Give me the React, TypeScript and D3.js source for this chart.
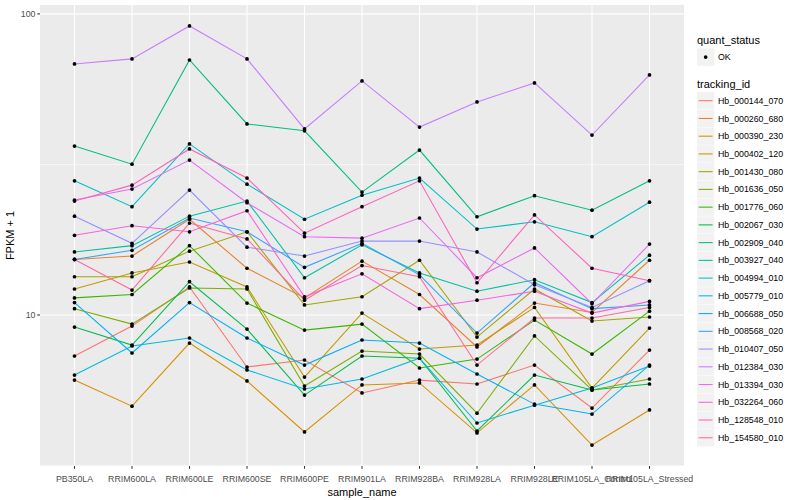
import * as d3 from "d3";

const samples = [
  "PB350LA",
  "RRIM600LA",
  "RRIM600LE",
  "RRIM600SE",
  "RRIM600PE",
  "RRIM901LA",
  "RRIM928BA",
  "RRIM928LA",
  "RRIM928LE",
  "RRIM105LA_Control",
  "RRIM105LA_Stressed",
];

const trackingIds = [
  "Hb_000144_070",
  "Hb_000260_680",
  "Hb_000390_230",
  "Hb_000402_120",
  "Hb_001430_080",
  "Hb_001636_050",
  "Hb_001776_060",
  "Hb_002067_030",
  "Hb_002909_040",
  "Hb_003927_040",
  "Hb_004994_010",
  "Hb_005779_010",
  "Hb_006688_050",
  "Hb_008568_020",
  "Hb_010407_050",
  "Hb_012384_030",
  "Hb_013394_030",
  "Hb_032264_060",
  "Hb_128548_010",
  "Hb_154580_010",
];

// FPKM + 1, one array per tracking_id, in sample order
const hb000144 = [7.31, 9.19, 12.4, 6.72, 7.09, 5.51, 6.08, 5.9, 6.82, 4.91, 7.65];
const hb000260 = [15.3, 15.7, 20.8, 14.3, 11.4, 15.1, 11.7, 7.83, 10.96, 10.2, 15.2];
const hb000390 = [6.08, 4.98, 8.07, 6.04, 4.09, 5.86, 5.95, 4.06, 5.86, 3.7, 4.84];
const hb000402 = [12.2, 13.8, 15.0, 12.4, 6.22, 10.15, 7.71, 7.95, 10.6, 5.72, 9.05];
const hb001430 = [13.4, 13.4, 16.3, 18.9, 10.8, 11.5, 15.2, 8.45, 12.2, 9.55, 9.85];
const hb001636 = [10.5, 9.33, 12.3, 12.2, 5.81, 7.59, 7.42, 4.72, 8.52, 5.64, 6.13];
const hb001776 = [11.4, 11.7, 17.0, 10.96, 8.91, 9.33, 6.67, 7.14, 9.62, 7.42, 10.3];
const hb002067 = [9.12, 7.95, 12.9, 8.98, 5.42, 7.31, 7.19, 4.12, 6.32, 5.64, 5.9];
const hb002909 = [36.4, 31.7, 70.3, 43.1, 40.9, 25.6, 35.3, 21.2, 24.9, 22.3, 27.9];
const hb003927 = [16.2, 17.0, 21.3, 23.9, 13.3, 17.1, 13.8, 12.0, 13.1, 11.0, 15.8];
const hb004994 = [27.9, 22.9, 37.0, 27.2, 20.8, 25.0, 28.5, 19.3, 20.4, 18.2, 23.7];
const hb005779 = [6.32, 7.89, 8.39, 6.57, 5.68, 6.13, 7.19, 4.38, 5.02, 5.72, 6.77];
const hb006688 = [11.0, 7.48, 11.0, 8.39, 6.82, 8.26, 8.07, 6.37, 5.06, 4.69, 6.82];
const hb008568 = [15.3, 16.4, 21.0, 18.9, 14.4, 17.3, 13.6, 8.71, 12.8, 10.5, 10.8];
const hb010407 = [21.3, 17.3, 26.0, 16.8, 15.7, 17.6, 17.6, 16.2, 12.6, 10.6, 13.0];
const hb012384 = [68.2, 70.9, 91.2, 70.9, 41.5, 59.9, 42.1, 51.0, 59.0, 39.6, 62.7];
const hb013394 = [24.1, 26.2, 32.7, 23.6, 18.2, 18.0, 21.0, 13.3, 16.7, 10.9, 17.2];
const hb032264 = [18.4, 19.8, 18.9, 22.2, 11.5, 13.7, 10.5, 11.2, 12.0, 10.15, 11.1];
const hb128548 = [23.9, 27.0, 35.6, 28.5, 18.7, 22.9, 27.9, 12.8, 21.5, 14.3, 13.0];
const hb154580 = [15.3, 12.1, 20.2, 17.9, 11.2, 14.6, 13.4, 6.82, 9.77, 9.77, 10.6];

const seriesValues = [
  hb000144, hb000260, hb000390, hb000402, hb001430, hb001636, hb001776,
  hb002067, hb002909, hb003927, hb004994, hb005779, hb006688, hb008568,
  hb010407, hb012384, hb013394, hb032264, hb128548, hb154580,
];

const yTicks = [10, 100];
const yMinor = [Math.pow(10, 0.5), Math.pow(10, 1.5)];

// ggplot's hue_pal: polar LUV with c = 100, l = 65
function hclLuv(h: number, c = 100, l = 65): string {
  const rad = (h * Math.PI) / 180;
  const U = c * Math.cos(rad);
  const V = c * Math.sin(rad);
  const Y = 100 * Math.pow((l + 16) / 116, 3);
  const un = 0.1978398;
  const vn = 0.4683363;
  const u = U / (13 * l) + un;
  const v = V / (13 * l) + vn;
  const X = (9 * Y * u) / (4 * v);
  const Z = -X / 3 - 5 * Y + (3 * Y) / v;
  const x = X / 100, y = Y / 100, z = Z / 100;
  const lin = [
    3.240479 * x - 1.53715 * y - 0.498535 * z,
    -0.969256 * x + 1.875992 * y + 0.041556 * z,
    0.055648 * x - 0.204043 * y + 1.057311 * z,
  ];
  const [r, g, b] = lin.map((t) => {
    const s = t <= 0.0031308 ? 12.92 * t : 1.055 * Math.pow(t, 1 / 2.4) - 0.055;
    return Math.round(Math.max(0, Math.min(1, s)) * 255);
  });
  return d3.rgb(r, g, b).formatHex();
}

const palette = trackingIds.map((_, i) => hclLuv(15 + (360 / trackingIds.length) * i));

const FONT = "'Liberation Sans', Arial, Helvetica, sans-serif";

export default function App() {
  const panel = { left: 40, right: 684, top: 5, bottom: 466 };

  const x = d3
    .scalePoint<string>()
    .domain(samples)
    .range([panel.left, panel.right])
    .padding(0.6);

  // log10 scale with ggplot's 5% expansion in transformed space
  const all = seriesValues.flat();
  const lo = Math.log10(d3.min(all) as number);
  const hi = Math.log10(d3.max(all) as number);
  const pad = (hi - lo) * 0.05;
  const y = d3
    .scaleLog()
    .domain([Math.pow(10, lo - pad), Math.pow(10, hi + pad)])
    .range([panel.bottom, panel.top]);

  const line = d3
    .line<number>()
    .x((_, i) => x(samples[i]) as number)
    .y((d) => y(d));

  const legendX = 697;
  const keyStep = 17.74;
  const keyTop = 100.7;

  return (
    <svg
      width={800}
      height={500}
      style={{ position: "absolute", left: 0, top: 0, background: "#fff" }}
      fontFamily={FONT}
    >
      <rect
        x={panel.left}
        y={panel.top}
        width={panel.right - panel.left}
        height={panel.bottom - panel.top}
        fill="#EBEBEB"
      />
      {/* minor grid */}
      {yMinor.map((v) => (
        <line
          key={"ym" + v}
          x1={panel.left}
          x2={panel.right}
          y1={y(v)}
          y2={y(v)}
          stroke="#fff"
          strokeWidth={0.55}
        />
      ))}
      {/* major grid */}
      {yTicks.map((v) => (
        <line
          key={"y" + v}
          x1={panel.left}
          x2={panel.right}
          y1={y(v)}
          y2={y(v)}
          stroke="#fff"
          strokeWidth={1.07}
        />
      ))}
      {samples.map((s) => (
        <line
          key={"x" + s}
          x1={x(s)}
          x2={x(s)}
          y1={panel.top}
          y2={panel.bottom}
          stroke="#fff"
          strokeWidth={1.07}
        />
      ))}

      {/* lines */}
      {seriesValues.map((vals, i) => (
        <path
          key={trackingIds[i]}
          d={line(vals) as string}
          fill="none"
          stroke={palette[i]}
          strokeWidth={1.07}
        />
      ))}
      {/* points */}
      {seriesValues.map((vals, i) =>
        vals.map((v, j) => (
          <circle
            key={trackingIds[i] + "-" + j}
            cx={x(samples[j])}
            cy={y(v)}
            r={1.85}
            fill="#000"
          />
        ))
      )}

      {/* y axis */}
      {yTicks.map((v) => (
        <g key={"yt" + v}>
          <line x1={panel.left - 2.7} x2={panel.left} y1={y(v)} y2={y(v)} stroke="#333" strokeWidth={1.07} />
          <text x={panel.left - 4.5} y={y(v)} dy="0.35em" textAnchor="end" fontSize={8.8} fill="#4D4D4D">
            {v}
          </text>
        </g>
      ))}
      <text
        transform={`translate(14,${(panel.top + panel.bottom) / 2}) rotate(-90)`}
        textAnchor="middle"
        fontSize={11}
        fill="#000"
      >
        FPKM + 1
      </text>

      {/* x axis */}
      {samples.map((s) => (
        <g key={"xt" + s}>
          <line x1={x(s)} x2={x(s)} y1={panel.bottom} y2={panel.bottom + 2.7} stroke="#333" strokeWidth={1.07} />
          <text x={x(s)} y={panel.bottom + 16} textAnchor="middle" fontSize={8.8} fill="#4D4D4D">
            {s}
          </text>
        </g>
      ))}
      <text x={(panel.left + panel.right) / 2} y={496} textAnchor="middle" fontSize={11} fill="#000">
        sample_name
      </text>

      {/* legend: quant_status */}
      <text x={legendX} y={44} fontSize={11} fill="#000">
        quant_status
      </text>
      <rect x={legendX} y={48.5} width={17.3} height={17.3} fill="#F2F2F2" />
      <circle cx={legendX + 8.65} cy={57.1} r={1.85} fill="#000" />
      <text x={legendX + 21} y={57.1} dy="0.35em" fontSize={8.8} fill="#000">
        OK
      </text>

      {/* legend: tracking_id */}
      <text x={legendX} y={88} fontSize={11} fill="#000">
        tracking_id
      </text>
      {trackingIds.map((id, i) => {
        const cy = keyTop + i * keyStep;
        return (
          <g key={"lg" + id}>
            <rect x={legendX} y={cy - 8.65} width={17.3} height={17.3} fill="#F2F2F2" />
            <line
              x1={legendX + 1.7}
              x2={legendX + 15.6}
              y1={cy}
              y2={cy}
              stroke={palette[i]}
              strokeWidth={1.07}
            />
            <text x={legendX + 21} y={cy} dy="0.35em" fontSize={8.8} fill="#000">
              {id}
            </text>
          </g>
        );
      })}
    </svg>
  );
}
